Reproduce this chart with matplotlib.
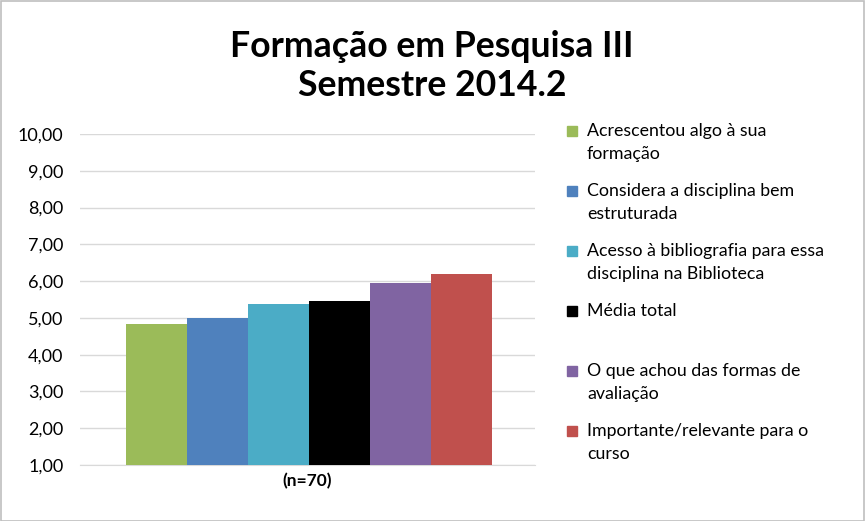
import matplotlib.pyplot as plt
from matplotlib.patches import Rectangle

plt.rcParams['font.family'] = ['Lato', 'DejaVu Sans']

labels = ['Acrescentou algo à sua\nformação',
          'Considera a disciplina bem\nestruturada',
          'Acesso à bibliografia para essa\ndisciplina na Biblioteca',
          'Média total\n ',
          'O que achou das formas de\navaliação',
          'Importante/relevante para o\ncurso']
values = [4.83, 4.99, 5.37, 5.47, 5.96, 6.20]
colors = ['#9bbb59', '#4f81bd', '#4bacc6', '#000000', '#8064a2', '#c0504d']
yticks = [1, 2, 3, 4, 5, 6, 7, 8, 9, 10]
category = '(n=70)'

W, H = 865, 521
fig = plt.figure(figsize=(W / 100, H / 100), dpi=100)
fig.patch.set_facecolor('white')
fig.add_artist(Rectangle((0.5 / W, 0.5 / H), 1 - 1.5 / W, 1 - 1.5 / H, transform=fig.transFigure,
                         fill=False, edgecolor='#bfbfbf', linewidth=1.2))

# plot area in pixels
x0, x1 = 80, 535
y_top, y_bot = 134, 465
ax = fig.add_axes([x0 / W, 1 - y_bot / H, (x1 - x0) / W, (y_bot - y_top) / H])

bw = 61 / (x1 - x0)
n = len(values)
for i, (v, c) in enumerate(zip(values, colors)):
    xc = (i - (n - 1) / 2) * bw + 1.5 / (x1 - x0)
    ax.bar(xc, v - 1, bottom=1, width=bw, color=c, zorder=3, linewidth=0)

ax.set_xlim(-0.5, 0.5)
ax.set_ylim(1, 10)
ax.set_yticks(yticks)
ax.set_yticklabels(['%d,00' % t for t in yticks], fontsize=13, color='#000000')
ax.yaxis.grid(True, color='#d9d9d9', linewidth=1, zorder=0)
ax.tick_params(axis='y', length=0, pad=12)
ax.set_xticks([0])
ax.set_xticklabels([category], fontsize=12.5, fontweight='bold')
ax.tick_params(axis='x', length=0, pad=6)
for s in ['top', 'right', 'left']:
    ax.spines[s].set_visible(False)
ax.spines['bottom'].set_color('#d9d9d9')

fig.text(432 / W, 1 - 66 / H, 'Formação em Pesquisa III\nSemestre 2014.2', ha='center', va='center',
         fontsize=25.7, fontweight='bold', linespacing=1.2)

# legend
for i, (lab, c) in enumerate(zip(labels, colors)):
    yc = 131 + i * 60
    fig.add_artist(Rectangle((567 / W, 1 - (yc + 5) / H), 10 / W, 10 / H,
                             transform=fig.transFigure, color=c))
    fig.text(587 / W, 1 - (yc - 8) / H, lab, ha='left', va='top', fontsize=12.8,
             linespacing=1.56)

fig.savefig('out.png', dpi=100)
